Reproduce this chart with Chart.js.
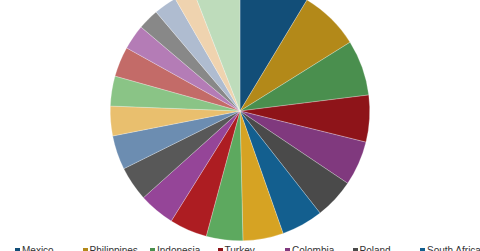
<!DOCTYPE html>
<html>
<head>
<meta charset="utf-8">
<script src="https://cdn.jsdelivr.net/npm/chart.js@4/dist/chart.umd.min.js"></script>
<style>
  html, body { margin: 0; padding: 0; background: #fff; overflow: hidden; }
  body { width: 480px; height: 251px; position: relative; }
  #chartBox { position: absolute; left: 0; top: -19px; width: 480px; height: 260px; }
  #legend { position: absolute; left: 0; top: 245px; width: 480px; font: 10px "Liberation Sans", Arial, sans-serif; color: #333; }
  .item { position: absolute; white-space: nowrap; }
  .item span.box { display: inline-block; width: 5px; height: 5px; margin-right: 2px; vertical-align: 1px; }
</style>
</head>
<body>
<div id="chartBox"><canvas id="pieChart"></canvas></div>
<div id="legend"></div>
<script>
const countries = [
  "Mexico", "Philippines", "Indonesia", "Turkey", "Colombia", "Poland", "South Africa",
  "Brazil", "Russia", "India", "China", "Malaysia", "Thailand", "Peru",
  "Chile", "Hungary", "Czech Republic", "Egypt", "Nigeria", "Romania", "Others"
];
const shares = [
  31.1, 26.9, 24.9, 21.0, 20.0, 18.0, 18.7,
  18.1, 16.4, 16.9, 16.1, 15.5, 15.3, 13.3,
  13.4, 13.5, 11.2, 9.4, 10.3, 8.8, 21.2
];
const sliceColors = [
  "#124e78", "#b38919", "#4a8f4e", "#8e1419", "#80397e", "#4a4a4a", "#135f8f",
  "#d6a323", "#5da95f", "#ad1d22", "#954598", "#585858", "#6c8db1", "#e9bf6e",
  "#8ac486", "#c36b68", "#b47cb6", "#888888", "#afbcd0", "#efd3af", "#bedcbb"
];

const ctx = document.getElementById("pieChart").getContext("2d");
new Chart(ctx, {
  type: "pie",
  data: {
    labels: countries,
    datasets: [
      {
        data: shares,
        backgroundColor: sliceColors,
        borderColor: "rgba(255,255,255,0.5)",
        borderWidth: 0.5,
      },
    ],
  },
  options: {
    responsive: true,
    maintainAspectRatio: false,
    animation: false,
    layout: { padding: 0 },
    plugins: { legend: { display: false }, tooltip: { enabled: false } },
  },
});

// legend in fixed-width columns, 7 per row
const legend = document.getElementById("legend");
countries.forEach((name, i) => {
  const col = i % 7;
  const row = Math.floor(i / 7);
  const item = document.createElement("div");
  item.className = "item";
  item.style.left = (15 + col * 67.5) + "px";
  item.style.top = (row * 14) + "px";
  item.innerHTML = `<span class="box" style="background:${sliceColors[i]}"></span>${name}`;
  legend.appendChild(item);
});
</script>
</body>
</html>
